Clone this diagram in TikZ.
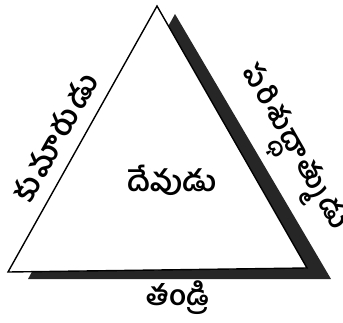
\documentclass[tikz,border=0pt]{standalone}
\usepackage{fontspec}
\newfontfamily\telugu[Script=Telugu]{Hind Guntur}
\newfontfamily\teluguwide[Script=Telugu, LetterSpace=9]{Hind Guntur}
\begin{document}
\begin{tikzpicture}[x=1pt, y=-1pt,
    word/.style={font=\telugu\bfseries\fontsize{#1}{#1}\selectfont, inner sep=0pt},
    side/.style={font=\teluguwide\bfseries\fontsize{#1}{#1}\selectfont, inner sep=0pt},
    shadow/.style={fill=black!85},
    tri/.style={draw=black, fill=white, line width=1.4pt, line join=miter}
  ]
  \useasboundingbox (0,0) rectangle (343,322);
  % corners of the triangle and of its shadow
  \coordinate (top)   at (157,6);
  \coordinate (right) at (307,268);
  \coordinate (left)  at (8,272);
  \coordinate (stop)   at (175,14);
  \coordinate (sright) at (331,279);
  \coordinate (sleft)  at (28,279);
  \fill[shadow] (stop) -- (sright) -- (sleft) -- cycle;
  \draw[tri] (top) -- (right) -- (left) -- cycle;
  % labels
  \node[word=29] (god)    at (172,180) {దేవుడు};
  \node[side=30, rotate=60.7] (son) at (55,137) {కుమారుడు};
  \node[side=28, rotate=-60.2] (spirit) at (289,150) {పరిశుద్ధాత్ముడు};
  \node[word=28] (father) at (178,298) {తండ్రి};
\end{tikzpicture}
\end{document}
